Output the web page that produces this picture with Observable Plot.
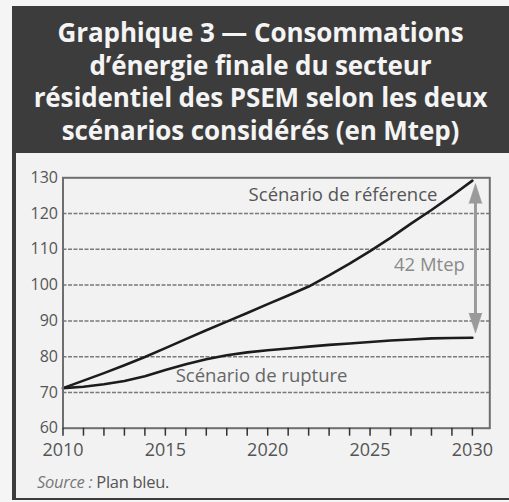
<!DOCTYPE html>
<html><head><meta charset="utf-8">
<script src="https://cdn.jsdelivr.net/npm/d3@7"></script>
<script src="https://cdn.jsdelivr.net/npm/@observablehq/plot@0.6"></script>
<style>
html,body{margin:0;padding:0;background:#f5f5f5;}
#page{position:relative;width:509px;height:502px;overflow:hidden;font-family:"Open Sans",sans-serif;}
#box{position:absolute;left:12px;top:6px;width:497px;height:494px;background:#3c3c3c;}
#panel{position:absolute;left:15.5px;top:153px;width:494px;height:345px;background:#f2f2f2;}
.tl{position:absolute;left:12px;width:497px;text-align:center;color:#f4f4f4;font-weight:700;font-size:26px;white-space:nowrap;line-height:1;letter-spacing:-0.1px;}
#src{position:absolute;left:37px;top:470px;font-size:16.5px;color:#777;letter-spacing:-0.3px;}
#chart{position:absolute;left:0;top:0;}
</style></head>
<body><div id="page"><div id="box"></div><div id="panel"></div><div id="titles"></div><div id="chart"></div><div id="src"><i>Source : </i><span style="color:#555">Plan bleu.</span></div></div>
<script>
const titleLines = ["Graphique 3 — Consommations", "d’énergie finale du secteur", "résidentiel des PSEM selon les deux", "scénarios considérés (en Mtep)"];
const years = [2010,2011,2012,2013,2014,2015,2016,2017,2018,2019,2020,2021,2022,2023,2024,2025,2026,2027,2028,2029,2030];
const referenceValues = [71.2,73.3,75.4,77.6,79.9,82.4,84.9,87.4,89.8,92.2,94.7,97.1,99.6,102.7,106.0,109.5,113.2,117.2,121.0,125.0,129.2];
const ruptureValues = [71.2,71.6,72.3,73.2,74.5,76.3,77.9,79.3,80.4,81.2,81.8,82.3,82.8,83.3,83.7,84.1,84.5,84.8,85.1,85.2,85.3];
const yTicks = [60,70,80,90,100,110,120,130];
const xTickLabels = [2010,2015,2020,2025,2030];
const seriesLabels = ["Scénario de référence","Scénario de rupture"];
const gapLabel = "42 Mtep";

const titles = document.getElementById("titles");
titleLines.forEach((t,i)=>{const d=document.createElement("div");d.className="tl";d.style.top=(19+i*32.5)+"px";d.textContent=t;titles.appendChild(d);});

const ref = years.map((y,i)=>({year:y,value:referenceValues[i]}));
const rup = years.map((y,i)=>({year:y,value:ruptureValues[i]}));
const arrowX = 2030.15;
const arrowTop = 128.4, arrowBottom = 86.6;

const chart = Plot.plot({
  width:509, height:502,
  marginLeft:62.5, marginRight:19.7, marginTop:177.3, marginBottom:74.3,
  style:{background:"transparent", fontFamily:"Open Sans"},
  x:{domain:[2010,2030.85]},
  y:{domain:[60,130]},
  marks:[
    Plot.ruleY(yTicks.filter(v=>v>60&&v<130),{stroke:"#7a7a7a",strokeWidth:1.5,strokeDasharray:"4,1.5"}),
    Plot.line(ref,{x:"year",y:"value",stroke:"#1c1c1c",strokeWidth:2.6}),
    Plot.line(rup,{x:"year",y:"value",stroke:"#1c1c1c",strokeWidth:2.6}),
    Plot.ruleX([arrowX],{y1:arrowBottom+4,y2:arrowTop-4,stroke:"#9a9a9a",strokeWidth:3}),
    Plot.vector([{x:arrowX,y:arrowTop}],{x:"x",y:"y",shape:"spike",anchor:"end",length:20,r:6.5,rotate:0,fill:"#9a9a9a",stroke:"#9a9a9a",strokeWidth:0.5}),
    Plot.vector([{x:arrowX,y:arrowBottom}],{x:"x",y:"y",shape:"spike",anchor:"end",length:20,r:6.5,rotate:180,fill:"#9a9a9a",stroke:"#9a9a9a",strokeWidth:0.5}),
    Plot.frame({stroke:"#6e6e6e",strokeWidth:2}),
    Plot.text([seriesLabels[0]],{x:()=>2023.68,y:()=>125.3,text:d=>d,fontSize:18.5,fill:"#555",letterSpacing:"-0.2px"}),
    Plot.text([seriesLabels[1]],{x:()=>2019.7,y:()=>74.7,text:d=>d,fontSize:18.5,fill:"#666"}),
    Plot.text([gapLabel],{x:()=>2027.9,y:()=>105.5,text:d=>d,fontSize:18.5,fill:"#8a8a8a"}),
    Plot.axisX({ticks:years,tickSize:8,tickFormat:()=>"",stroke:"#333",strokeWidth:1.5}),
    Plot.axisX({ticks:xTickLabels,tickSize:0,tickPadding:15,tickFormat:d=>String(d),fontSize:18,fill:"#555"}),
    Plot.axisY({ticks:yTicks,tickSize:0,tickPadding:5,tickFormat:d=>String(d),fontSize:16,fill:"#555"})
  ]
});
document.getElementById("chart").appendChild(chart);
</script></body></html>
